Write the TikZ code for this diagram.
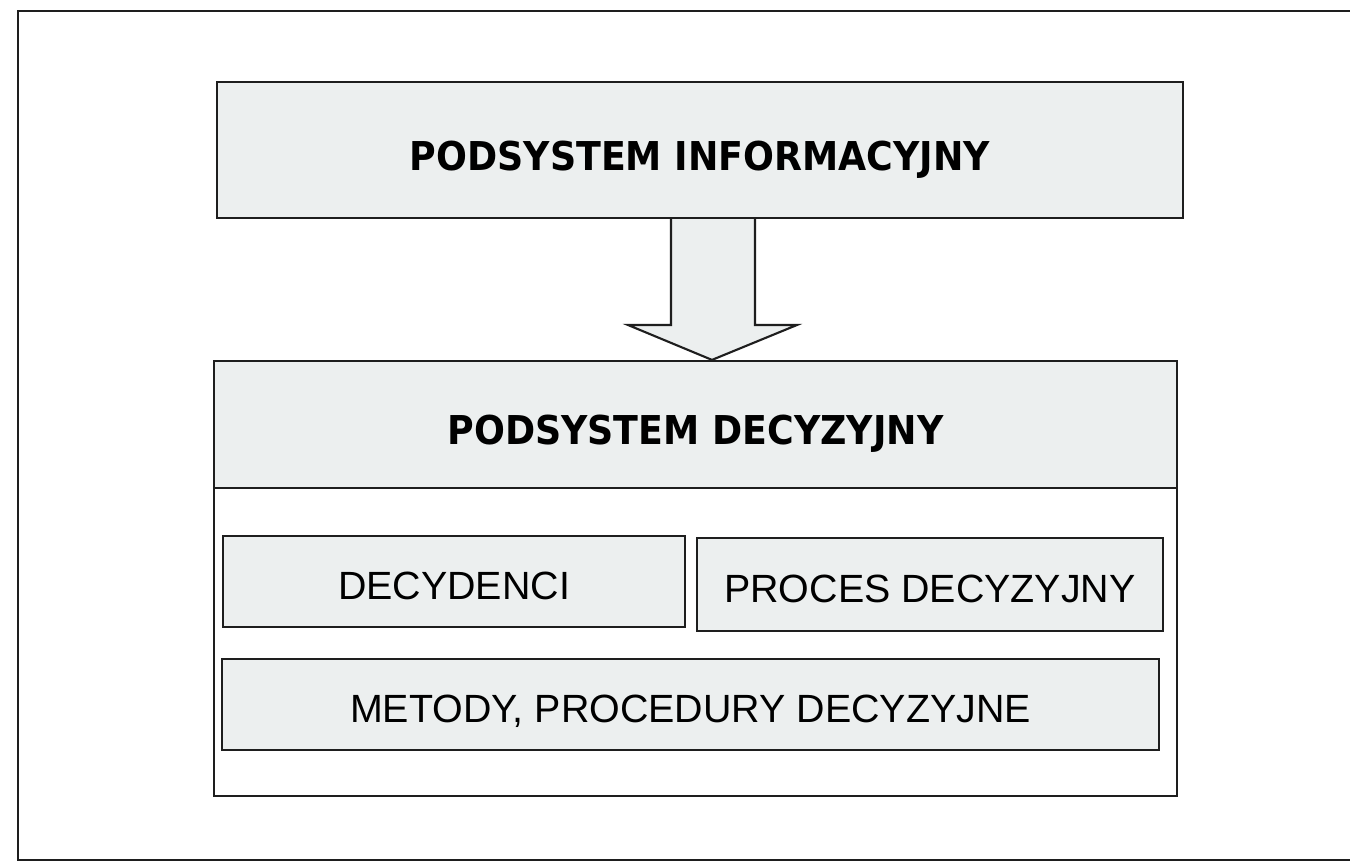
\documentclass[tikz,border=0pt]{standalone}
\usepackage{fontspec}
\setmainfont{Liberation Sans}
\newfontfamily\titlefont[FakeStretch=0.915]{DejaVu Sans}
\usetikzlibrary{calc}
\definecolor{boxfill}{RGB}{236,239,239}
\definecolor{linecol}{RGB}{30,30,30}
\tikzset{
  panel/.style={draw=linecol, line width=0.6pt, fill=boxfill, inner sep=0pt},
  whitepanel/.style={draw=linecol, line width=0.6pt, fill=white, inner sep=0pt},
  titletext/.style={font=\titlefont\bfseries\fontsize{11.3}{13}\selectfont, text height=11.4pt, text depth=0pt},
  itemtext/.style={font=\fontsize{11.2}{13}\selectfont, text height=10.3pt, text depth=0pt},
  bigarrow/.style={draw=linecol, line width=0.6pt, fill=boxfill, line join=miter}
}
\begin{document}
\begin{tikzpicture}[x=0.01cm, y=-0.01cm]
\useasboundingbox[fill=white] (0,0) rectangle (1350,867);
\begin{scope}
\clip (0,0) rectangle (1350,867);
\draw[line width=0.8pt, draw=linecol] (1400,11) -- (18,11) -- (18,860) -- (1400,860);
\end{scope}
% top box
\node[panel, minimum width=9.66cm, minimum height=1.36cm, titletext] (top) at (700,150) {PODSYSTEM INFORMACYJNY};
% bottom box
\node[whitepanel, minimum width=9.63cm, minimum height=4.35cm] (bottom) at (695.5,578.5) {};
\node[panel, minimum width=9.63cm, minimum height=1.27cm, titletext] (band) at (695.5,424.5) {PODSYSTEM DECYZYJNY};
% inner boxes
\node[panel, minimum width=4.62cm, minimum height=0.91cm, itemtext] (dec) at (454,581.5) {DECYDENCI};
\node[panel, minimum width=4.66cm, minimum height=0.93cm, itemtext] (proc) at (930,584.5) {PROCES DECYZYJNY};
\node[panel, minimum width=9.37cm, minimum height=0.91cm, itemtext] (met) at (690.5,704.5) {METODY, PROCEDURY DECYZYJNE};
% big arrow from top to bottom
\coordinate (tip) at (712,0 |- band.north);
\draw[bigarrow] (671,0 |- top.south) -- (671,325) -- (628,325) -- (tip) -- (797,325) -- (755,325) -- (755,0 |- top.south);
\end{tikzpicture}
\end{document}
